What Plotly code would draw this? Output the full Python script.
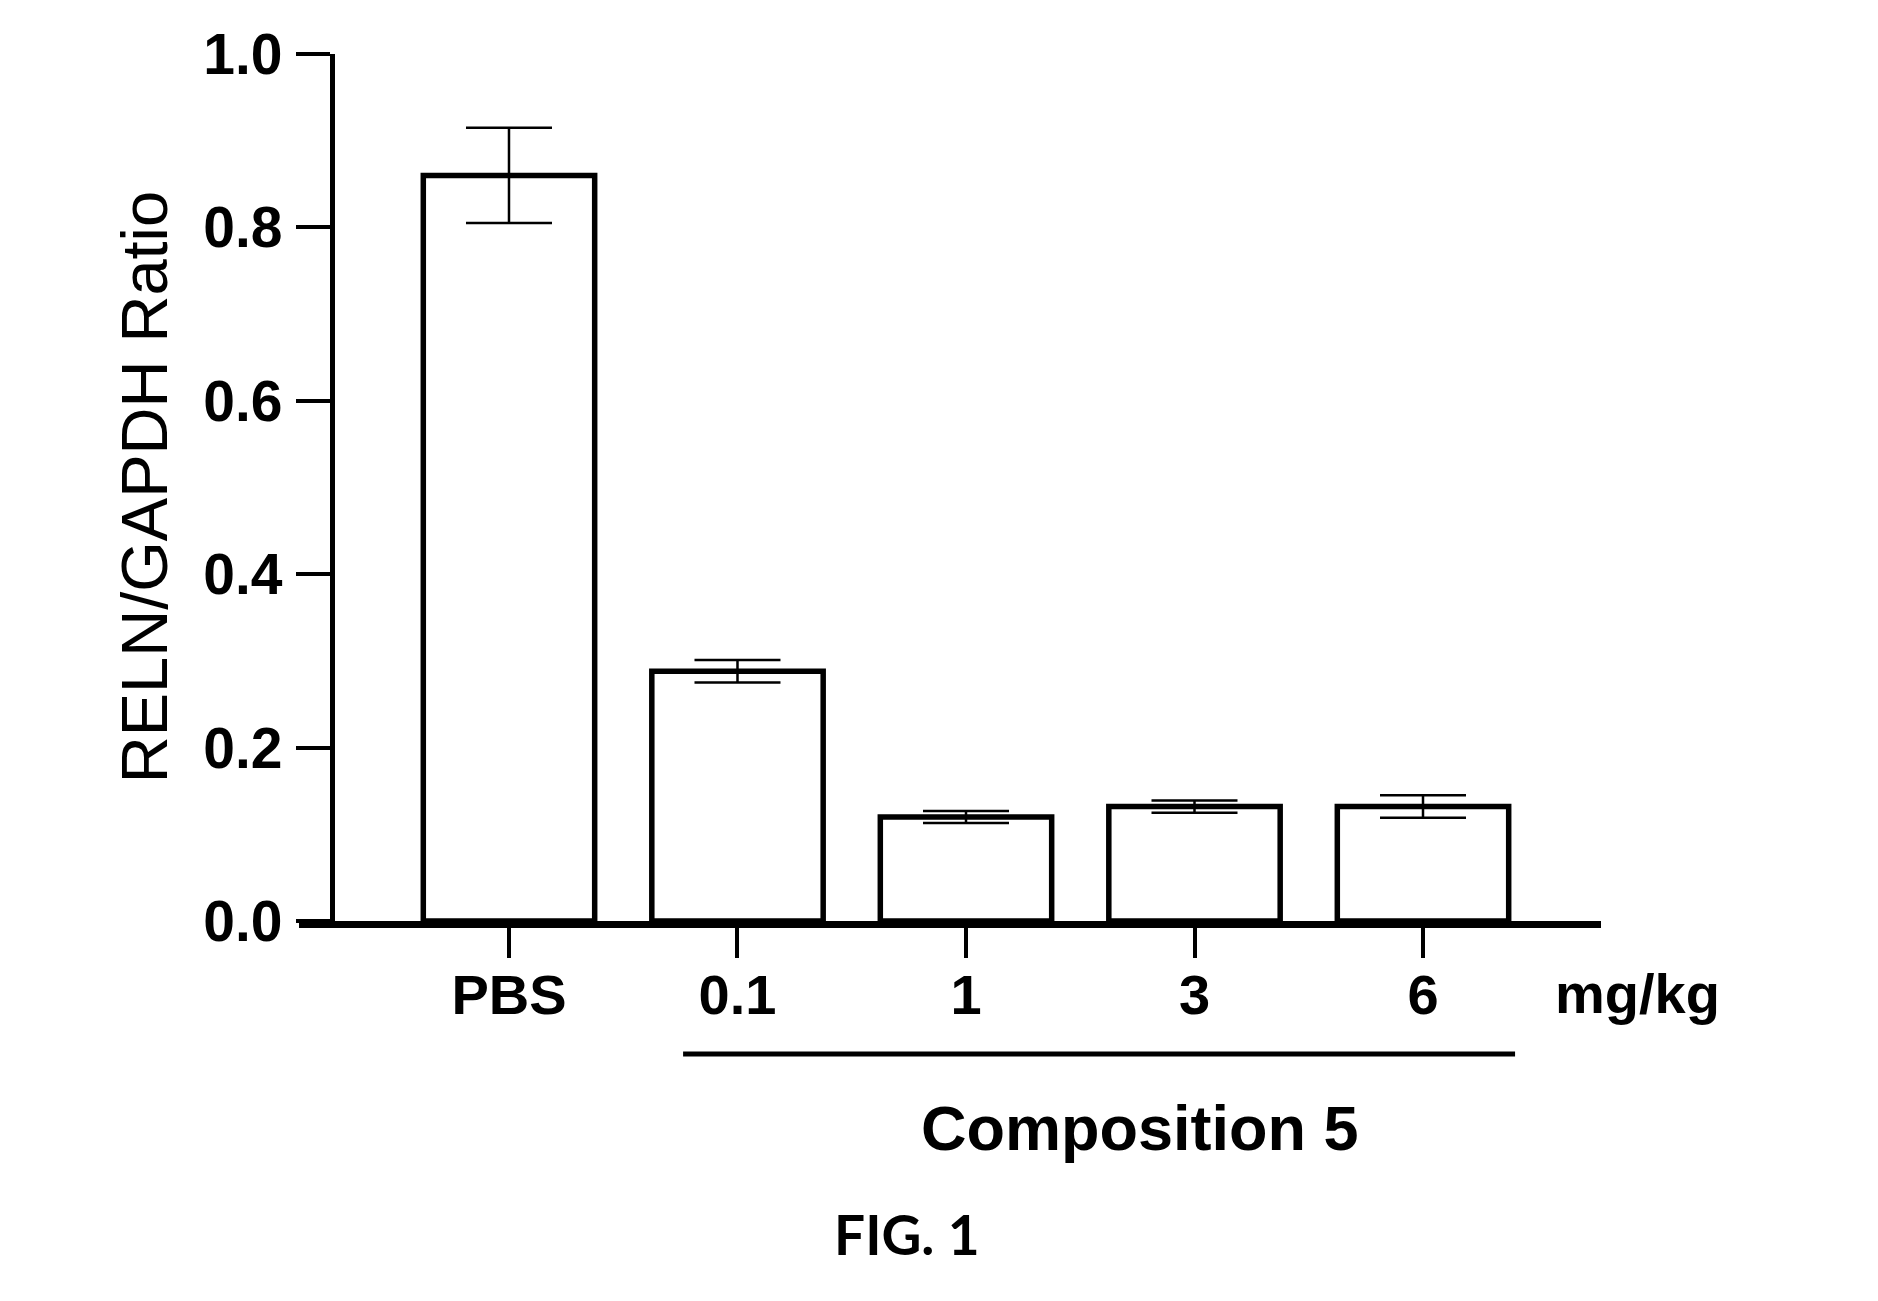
import plotly.graph_objects as go

categories = ["PBS", "0.1", "1", "3", "6"]
values = [0.86, 0.288, 0.12, 0.132, 0.132]
errors = [0.055, 0.013, 0.007, 0.007, 0.013]
y_ticks = [0.0, 0.2, 0.4, 0.6, 0.8, 1.0]
y_ticklabels = ["0.0", "0.2", "0.4", "0.6", "0.8", "1.0"]

FONT = "Liberation Sans, Arial, sans-serif"

fig = go.Figure()
fig.add_trace(go.Bar(
    x=list(range(len(categories))),
    y=values,
    width=0.75,
    marker=dict(color="white", line=dict(color="black", width=5.5)),
    error_y=dict(type="data", array=errors, visible=True, color="black",
                 thickness=2.5, width=43),
    showlegend=False,
))

fig.update_layout(
    width=1878, height=1301,
    margin=dict(l=299, r=277, t=54, b=380),
    paper_bgcolor="white", plot_bgcolor="white",
    xaxis=dict(
        range=[-0.919, 4.779],
        tickmode="array", tickvals=list(range(len(categories))), ticktext=categories,
        showline=True, linecolor="black", linewidth=7,
        ticks="outside", ticklen=30, tickwidth=4, tickcolor="black",
        showgrid=False, zeroline=False,
        tickfont=dict(family=FONT, size=56, color="black", weight="bold"),
        ticklabelstandoff=-11,
    ),
    yaxis=dict(
        range=[0, 1.0],
        anchor="free", position=0.0253,
        tickmode="array", tickvals=y_ticks, ticktext=y_ticklabels,
        showline=True, linecolor="black", linewidth=5,
        ticks="outside", ticklen=34, tickwidth=4, tickcolor="black",
        showgrid=False, zeroline=False,
        tickfont=dict(family=FONT, size=57, color="black", weight="bold"),
        ticklabelstandoff=2,
    ),
    font=dict(family=FONT, color="black"),
)

fig.add_annotation(xref="paper", yref="paper", x=-0.1185, y=0.5,
                   text="RELN/GAPDH Ratio", textangle=-90, showarrow=False,
                   font=dict(family=FONT, size=65, color="black"),
                   xanchor="center", yanchor="middle")
fig.add_annotation(xref="paper", yref="paper", x=1.028, y=-0.084,
                   text="mg/kg", showarrow=False,
                   font=dict(family=FONT, size=56, color="black", weight="bold"),
                   xanchor="center", yanchor="middle")
fig.add_annotation(xref="paper", yref="paper", x=0.646, y=-0.2388,
                   text="Composition 5", showarrow=False,
                   font=dict(family=FONT, size=63, color="black", weight="bold"),
                   xanchor="center", yanchor="middle")
fig.add_annotation(xref="paper", yref="paper", x=0.467, y=-0.361,
                   text="FIG. 1", showarrow=False,
                   font=dict(family="Lato, Open Sans, sans-serif", size=55, color="black", weight="bold"),
                   xanchor="center", yanchor="middle")
fig.add_shape(type="line", xref="paper", yref="paper",
              x0=0.295, x1=0.934, y0=-0.1534, y1=-0.1534,
              line=dict(color="black", width=5))

fig.write_html("out.html")
